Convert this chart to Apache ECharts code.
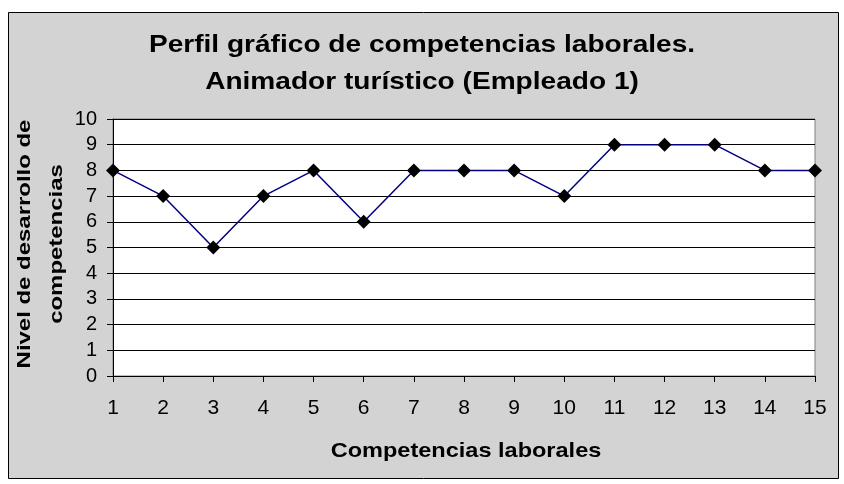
<!DOCTYPE html>
<html>
<head>
<meta charset="utf-8">
<script src="https://cdn.jsdelivr.net/npm/echarts@6/dist/echarts.min.js"></script>
<style>
  html, body { margin: 0; padding: 0; background: #fff; }
  #chart { width: 844px; height: 484px; }
</style>
</head>
<body>
<div id="chart"></div>
<script>
// datos
var competencias = ['1','2','3','4','5','6','7','8','9','10','11','12','13','14','15'];
var niveles = [8, 7, 5, 7, 8, 6, 8, 8, 8, 7, 9, 9, 9, 8, 8];
var titulo = 'Perfil gráfico de competencias laborales.\nAnimador turístico (Empleado 1)';
var nombreY = 'Nivel de desarrollo de\ncompetencias';
var nombreX = 'Competencias laborales';

var chart = echarts.init(document.getElementById('chart'));
var font = 'Liberation Sans, Arial, sans-serif';

var options = {
  animation: false,
  backgroundColor: '#fff',
  graphic: [
    {
      type: 'rect', z: -10,
      shape: { x: 8.5, y: 12.5, width: 830, height: 466 },
      style: { fill: '#d3d3d3', stroke: '#000', lineWidth: 1 }
    },
    {
      type: 'rect', z: -5,
      shape: { x: 113, y: 119, width: 702, height: 257 },
      style: { fill: '#fff', stroke: '#808080', lineWidth: 1 }
    },
    {
      // titulo
      type: 'text',
      x: 422, y: 64,
      scaleX: 1.17,
      style: {
        text: titulo,
        fontFamily: font, fontWeight: 'bold', fontSize: 24,
        align: 'center', verticalAlign: 'middle', lineHeight: 37,
        fill: '#000'
      }
    },
    {
      // nombre eje y
      type: 'text',
      x: 41, y: 244,
      rotation: Math.PI / 2,
      scaleX: 1.26,
      style: {
        text: nombreY,
        fontFamily: font, fontWeight: 'bold', fontSize: 19,
        align: 'center', verticalAlign: 'middle', lineHeight: 32,
        fill: '#000'
      }
    },
    {
      // nombre eje x
      type: 'text',
      x: 466, y: 451,
      scaleX: 1.12,
      style: {
        text: nombreX,
        fontFamily: font, fontWeight: 'bold', fontSize: 21,
        align: 'center', verticalAlign: 'middle',
        fill: '#000'
      }
    }
  ],
  grid: { left: 113, right: 29, top: 119, bottom: 108 },
  xAxis: {
    type: 'category',
    data: competencias,
    boundaryGap: false,
    axisLine: { lineStyle: { color: '#000', width: 1 } },
    axisTick: { show: true, length: 6, inside: false, lineStyle: { color: '#000' } },
    axisLabel: { fontFamily: font, fontSize: 21, color: '#000', margin: 22 },
    splitLine: { show: false }
  },
  yAxis: {
    type: 'value',
    min: 0, max: 10, interval: 1,
    axisLine: { show: true, lineStyle: { color: '#000', width: 1 } },
    axisTick: { show: true, length: 6, lineStyle: { color: '#000' } },
    axisLabel: { fontFamily: font, fontSize: 20, color: '#000', margin: 16 },
    splitLine: { show: true, lineStyle: { color: '#000', width: 1 } }
  },
  series: [{
    name: 'Empleado 1',
    type: 'line',
    data: niveles,
    symbol: 'diamond',
    symbolSize: 14,
    itemStyle: { color: '#000' },
    lineStyle: { color: '#000080', width: 1.5 }
  }]
};
chart.setOption(options);
</script>
</body>
</html>
